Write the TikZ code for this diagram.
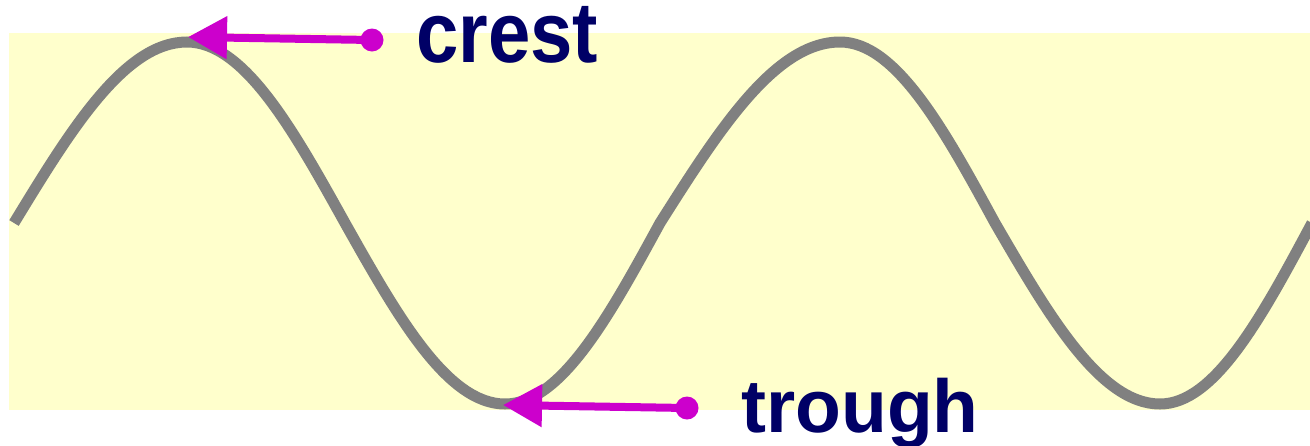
\documentclass[tikz,border=0pt]{standalone}
\usepackage{fontspec}
\setmainfont{Liberation Sans}
\usetikzlibrary{arrows.meta}
\definecolor{bgyellow}{HTML}{FFFFCC}
\definecolor{wavegray}{HTML}{808080}
\definecolor{pointer}{HTML}{CC00CC}
\definecolor{labelnavy}{HTML}{000066}
\tikzset{
  wave/.style={draw=wavegray, line width=11pt},
  pointerdot/.style={circle, fill=pointer, minimum size=23pt, inner sep=0pt},
  pointerline/.style={draw=pointer, line width=8pt, -{Triangle[length=39pt,width=41pt]}},
  wavelabel/.style={text=labelnavy, font=\bfseries, inner sep=0pt, anchor=base west}
}
\begin{document}
\begin{tikzpicture}[x=1pt,y=-1pt]
\useasboundingbox (0,0) rectangle (1310,445);
\fill[bgyellow] (9,33) rectangle (1310,410);
\draw[wave] (14,223) sin (187,42) cos (345,223) sin (505,404) cos (660,223)
  sin (840,42) cos (995,223) sin (1160,404) cos (1312,223);
% crest pointer
\node[pointerdot] (cdot) at (372,40) {};
\coordinate (ctip) at (188,37);
\draw[pointerline] (cdot.center) -- (ctip);
\node[wavelabel, xscale=0.885] (crest) at (416,62) {\fontsize{86}{86}\selectfont crest};
% trough pointer
\node[pointerdot] (tdot) at (687,408) {};
\coordinate (ttip) at (503,405);
\draw[pointerline] (tdot.center) -- (ttip);
\node[wavelabel] (trough) at (741,432) {\fontsize{75}{75}\selectfont trough};
\end{tikzpicture}
\end{document}
